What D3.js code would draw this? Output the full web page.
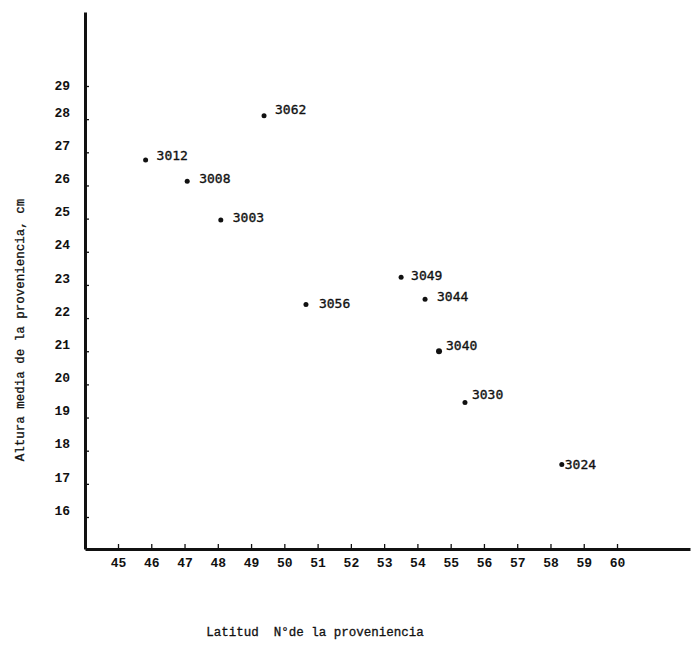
<!DOCTYPE html>
<html>
<head>
<meta charset="utf-8">
<script src="https://cdn.jsdelivr.net/npm/d3@7"></script>
<style>
  body { margin: 0; background: #fff; }
  svg { display: block; }
  .tick text { font-family: "Liberation Mono", monospace; font-weight: bold; font-size: 13px; fill: #111; }
  .domain { stroke: #111; stroke-width: 3; }
  .tick line { stroke: #111; stroke-width: 1.3; }
</style>
</head>
<body>
<script>
// procedencias (codigo), latitud y altura media
const codes = ["3012", "3008", "3062", "3003", "3056", "3049", "3044", "3040", "3030", "3024"];
const latitude = [45.83, 47.08, 49.39, 48.09, 50.65, 53.51, 54.23, 54.65, 55.43, 58.34];
const height = [26.77, 26.13, 28.10, 24.96, 22.41, 23.23, 22.57, 21.00, 19.45, 17.58];

const xTicks = d3.range(45, 61);
const yTicks = d3.range(16, 30);

// label nudges [dx, dy] per point, as typed on the original
const labelNudge = [[11, -4], [12, -3], [11, -6], [12, -2], [13, -1], [10, -2], [12, -3], [7, -6], [7, -8], [3, 0]];

const w = 700, h = 655;

const svg = d3.select("body").append("svg")
  .attr("width", w)
  .attr("height", h);

const xScale = d3.scaleLinear().domain([44.008, 62.194]).range([85, 690]);
const yScale = d3.scaleLinear().domain([15.035, 31.232]).range([549, 12]);

const xAxis = d3.axisBottom(xScale).tickValues(xTicks).tickFormat(d3.format("d"))
  .tickSizeInner(-5).tickSizeOuter(0).tickPadding(9);
const yAxis = d3.axisLeft(yScale).tickValues(yTicks).tickFormat(d3.format("d"))
  .tickSizeInner(-4).tickSizeOuter(0).tickPadding(15);

svg.append("g").attr("transform", "translate(0,549)").call(xAxis);
const gy = svg.append("g").attr("transform", "translate(85,0)").call(yAxis);
gy.selectAll(".tick text").attr("transform", (d) => "translate(0," + (d === 29 ? -1 : -7) + ")");

const pts = codes.map((c, i) => ({ code: c, lat: latitude[i], alt: height[i], nudge: labelNudge[i] }));

svg.selectAll("circle").data(pts).enter().append("circle")
  .attr("cx", d => xScale(d.lat))
  .attr("cy", d => yScale(d.alt))
  .attr("r", d => d.code === "3040" ? 3 : 2.5)
  .attr("fill", "#111");

svg.selectAll("text.lbl").data(pts).enter().append("text")
  .attr("class", "lbl")
  .attr("x", d => xScale(d.lat) + d.nudge[0])
  .attr("y", d => yScale(d.alt) + d.nudge[1])
  .attr("dy", "0.35em")
  .attr("font-family", "DejaVu Sans Mono, monospace")
  .attr("font-size", 13)
  .attr("fill", "#111")
  .attr("stroke", "#111")
  .attr("stroke-width", 0.35)
  .text(d => d.code);

svg.append("text")
  .attr("x", 315)
  .attr("y", 636)
  .attr("text-anchor", "middle")
  .attr("font-family", "Liberation Mono, monospace")
  .attr("font-size", 12.5)
  .attr("fill", "#111")
  .attr("stroke", "#111")
  .attr("stroke-width", 0.3)
  .attr("xml:space", "preserve")
  .text("Latitud  N°de la proveniencia");

svg.append("text")
  .attr("transform", "translate(24,330) rotate(-90)")
  .attr("text-anchor", "middle")
  .attr("font-family", "Liberation Mono, monospace")
  .attr("font-size", 12.5)
  .attr("fill", "#111")
  .attr("stroke", "#111")
  .attr("stroke-width", 0.3)
  .text("Altura media de la proveniencia, cm");
</script>
</body>
</html>
